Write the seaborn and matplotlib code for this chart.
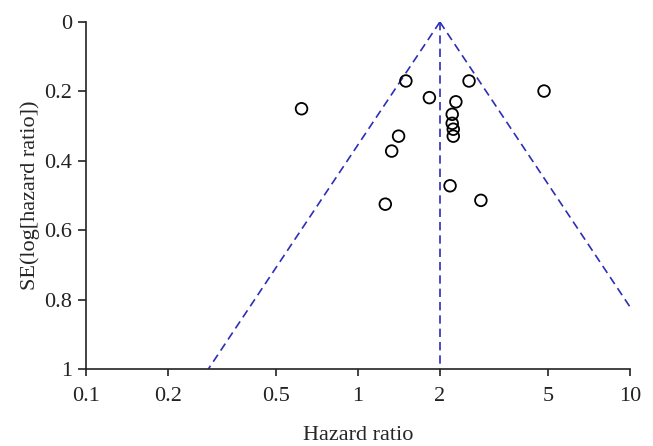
import numpy as np
import pandas as pd
import matplotlib.pyplot as plt
import seaborn as sns

# study estimates
hazard_ratio = [1.50, 2.56, 4.83, 0.62, 1.83, 2.29, 2.22, 2.22, 2.24, 2.24,
                1.41, 1.33, 2.18, 2.83, 1.26]
se_log_hr = [0.170, 0.170, 0.199, 0.250, 0.218, 0.230, 0.266, 0.292, 0.309, 0.329,
             0.329, 0.372, 0.472, 0.514, 0.525]
pooled_hr = 2.0
x_ticks = [0.1, 0.2, 0.5, 1, 2, 5, 10]
y_ticks = [0, 0.2, 0.4, 0.6, 0.8, 1]

df = pd.DataFrame({"hr": hazard_ratio, "se": se_log_hr})

# pseudo 95% confidence limits
se_grid = np.array([0.0, 1.0])
lower = np.exp(np.log(pooled_hr) - 1.96 * se_grid)
upper = np.exp(np.log(pooled_hr) + 1.96 * se_grid)

sns.set_style("ticks")
plt.rcParams["font.family"] = ["Liberation Serif", "DejaVu Serif"]

fig = plt.figure(figsize=(6.53, 4.46), dpi=100)
ax = fig.add_axes([86 / 653, 77 / 446, 544 / 653, 347 / 446])

line_kw = dict(color="#2e2eb8", linestyle=(0, (5, 3)), linewidth=1.2, clip_on=True)
ax.plot(lower, se_grid, **line_kw)
ax.plot(upper, se_grid, **line_kw)
ax.plot([pooled_hr, pooled_hr], [0, 1], **line_kw)

sns.scatterplot(data=df, x="hr", y="se", ax=ax, marker="o", s=70,
                facecolor="none", edgecolor="black", linewidth=1.3, zorder=3)

ax.set_xscale("log")
ax.set_xlim(0.1, 10)
ax.set_ylim(1, 0)
ax.set_xticks(x_ticks)
ax.set_xticklabels([f"{t:g}" for t in x_ticks])
ax.minorticks_off()
ax.set_yticks(y_ticks)
ax.set_yticklabels([f"{t:g}" for t in y_ticks])

sns.despine(ax=ax)
for side in ["left", "bottom"]:
    ax.spines[side].set_linewidth(1.2)
    ax.spines[side].set_color("#222222")
ax.tick_params(axis="x", length=5, width=1.2, labelsize=16, pad=8, colors="#222222")
ax.tick_params(axis="y", length=6, width=1.2, labelsize=16, pad=4, colors="#222222")

ax.set_xlabel("Hazard ratio", fontsize=16, labelpad=14)
ax.set_ylabel("SE(log[hazard ratio])", fontsize=16, labelpad=3)

plt.savefig("out.png", dpi=100)
